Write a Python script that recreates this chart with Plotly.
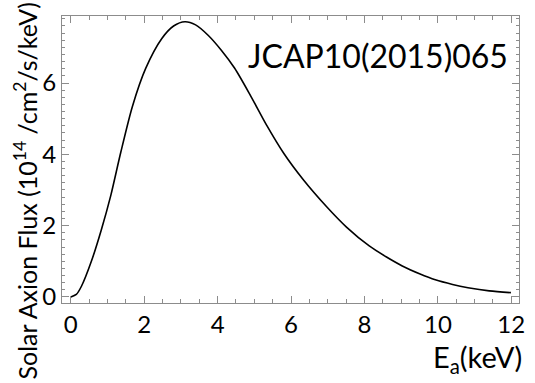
import plotly.graph_objects as go

energy_kev = [0.0, 0.15, 0.29, 0.56, 0.83, 1.09, 1.36, 1.68, 2.04, 2.48, 2.80, 3.11, 3.40, 3.74,
              4.10, 4.46, 4.91, 5.35, 5.80, 6.34, 6.97, 7.51, 8.13, 8.60, 9.03, 9.50, 9.93,
              10.40, 10.82, 11.40, 11.99]
flux = [0.0, 0.07, 0.30, 1.00, 1.88, 2.85, 4.05, 5.35, 6.41, 7.25, 7.60, 7.72, 7.63, 7.34,
        6.92, 6.42, 5.62, 4.79, 4.03, 3.28, 2.53, 1.96, 1.43, 1.12, 0.87, 0.65, 0.48,
        0.35, 0.26, 0.17, 0.12]
x_ticks = [0, 2, 4, 6, 8, 10, 12]
y_ticks = [0, 2, 4, 6]

FONT = "Lato, 'Open Sans', sans-serif"
AX = "#8c8c8c"

fig = go.Figure(go.Scatter(x=energy_kev, y=flux, mode="lines",
                           line=dict(color="black", width=1.6, shape="spline", smoothing=0.8)))

axis_common = dict(showline=True, linecolor=AX, linewidth=1.2, mirror="allticks", ticks="inside",
                   tickcolor=AX, tickwidth=1, showgrid=False, zeroline=False,
                   tickfont=dict(family=FONT, size=24, color="black"))
fig.update_xaxes(range=[-0.24, 12.21], tickvals=x_ticks, ticklen=7,
                 minor=dict(dtick=0.5, tick0=0, ticks="inside", ticklen=4, tickcolor=AX), **axis_common)
fig.update_yaxes(range=[-0.17, 7.88], tickvals=y_ticks, ticklen=7,
                 minor=dict(dtick=0.2, tick0=0, ticks="inside", ticklen=3, tickcolor=AX), **axis_common)

L, R, T, B = 62, 10, 16, 80
pw, ph = 535 - L - R, 383 - T - B


def px(x, y):
    return (x - L) / pw, ((383 - y) - B) / ph


ax1, ay1 = px(516, 56)
ax2, ay2 = px(530, 358)
ax3, ay3 = px(25, 191)

fig.update_layout(
    width=535, height=383, margin=dict(l=L, r=R, t=T, b=B),
    paper_bgcolor="white", plot_bgcolor="white", showlegend=False,
    font=dict(family=FONT, color="black"),
    annotations=[
        dict(text="JCAP10(2015)065", x=ax1, y=ay1, xref="paper", yref="paper", showarrow=False,
             font=dict(size=32), xanchor="right", yanchor="middle"),
        dict(text="E<sub>a</sub>(keV)", x=ax2, y=ay2, xref="paper", yref="paper", showarrow=False,
             font=dict(size=29), xanchor="right", yanchor="middle"),
        dict(text="Solar Axion Flux (10<sup>14</sup> /cm<sup>2</sup>/s/keV)", x=ax3, y=ay3,
             xref="paper", yref="paper", textangle=-90,
             showarrow=False, font=dict(size=25), xanchor="center", yanchor="middle"),
    ],
)

fig.write_html("out.html")
